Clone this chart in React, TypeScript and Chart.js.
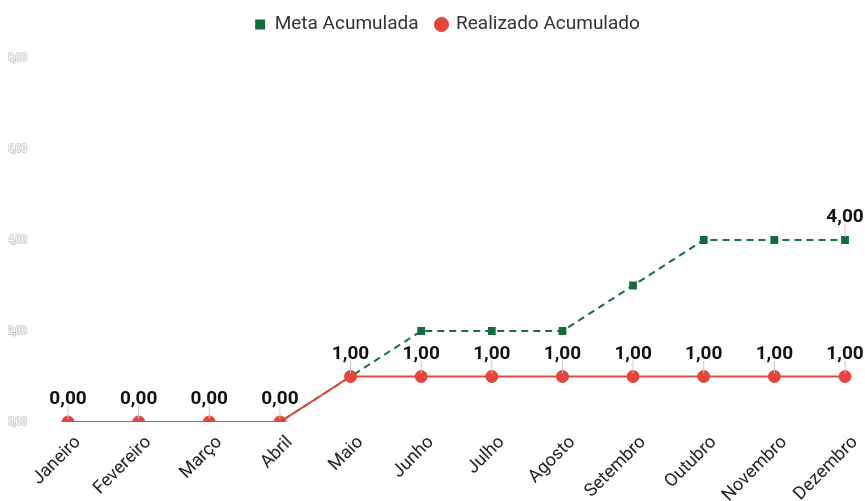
import React, { useEffect, useRef } from "react";
import { Chart, registerables } from "chart.js";

Chart.register(...registerables);

const months = ["Janeiro", "Fevereiro", "Março", "Abril", "Maio", "Junho", "Julho", "Agosto", "Setembro", "Outubro", "Novembro", "Dezembro"];
const metaAcumulada = [0, 0, 0, 0, 1, 2, 2, 2, 3, 4, 4, 4];
const realizadoAcumulado = [0, 0, 0, 0, 1, 1, 1, 1, 1, 1, 1, 1];
const yTicks = [0, 2, 4, 6, 8];

const fmt = (v: number) => v.toFixed(2).replace(".", ",");

const labelPlugin = {
  id: "pointLabels",
  afterDatasetsDraw(chart: any) {
    const ctx = chart.ctx;
    ctx.save();
    chart.data.datasets.forEach((ds: any, di: number) => {
      const meta = chart.getDatasetMeta(di);
      meta.data.forEach((pt: any, i: number) => {
        const isMeta = ds.label === "Meta Acumulada";
        if (isMeta && i !== ds.data.length - 1) return;
        const x = pt.x;
        const y = pt.y;
        ctx.strokeStyle = "#c8c8c8";
        ctx.lineWidth = 1;
        ctx.beginPath();
        ctx.moveTo(x, y - 3);
        ctx.lineTo(x, y - 18);
        ctx.stroke();
        ctx.font = "bold 19px Roboto";
        ctx.textAlign = "center";
        ctx.textBaseline = "alphabetic";
        ctx.lineJoin = "round";
        ctx.strokeStyle = "rgba(255,255,255,0.95)";
        ctx.lineWidth = 4;
        const t = fmt(ds.data[i]);
        ctx.strokeText(t, x, y - 18);
        ctx.fillStyle = "#111111";
        ctx.fillText(t, x, y - 18);
      });
    });
    ctx.restore();
  },
};

const legendHeightPlugin = {
  id: "legendHeight",
  beforeUpdate(chart: any) {
    const lg = chart.legend;
    if (lg && !lg.__patched) {
      const orig = lg.fit;
      lg.fit = function () {
        orig.call(this);
        this.height = 61;
      };
      lg.__patched = true;
    }
  },
  afterLayout(chart: any) {
    if (chart.legend) chart.legend.left += 42;
  },
};

export default function App() {
  const ref = useRef<HTMLCanvasElement>(null);
  useEffect(() => {
    document.body.style.margin = "0";
    const chart = new Chart(ref.current!, {
      type: "line",
      data: {
        labels: months,
        datasets: [
          {
            label: "Meta Acumulada",
            data: metaAcumulada,
            borderColor: "#1a6e3f",
            backgroundColor: "#0f6e3c",
            borderWidth: 2,
            borderDash: [7, 5],
            pointStyle: "rect",
            pointRadius: 5.5,
            pointBorderWidth: 0,
            pointHoverRadius: 5.5,
            tension: 0,
            order: 1,
          },
          {
            label: "Realizado Acumulado",
            data: realizadoAcumulado,
            borderColor: "#dc4a3c",
            backgroundColor: "#e8443a",
            borderWidth: 2,
            pointStyle: "circle",
            pointRadius: 6,
            pointBorderWidth: 1,
            pointHoverRadius: 6,
            tension: 0,
            order: 0,
          },
        ],
      },
      options: {
        animation: false,
        responsive: false,
        layout: { padding: { left: 8, right: 20, top: -3, bottom: 0 } },
        plugins: {
          tooltip: { enabled: false },
          legend: {
            reverse: true,
            labels: {
              usePointStyle: true,
              boxHeight: 10,
              boxWidth: 10,
              font: { family: "Roboto", size: 19 },
              color: "#333333",
              padding: 18,
            },
          },
        },
        scales: {
          x: {
            offset: false,
            grid: { display: false },
            border: { display: false },
            ticks: {
              maxRotation: 45,
              minRotation: 45,
              labelOffset: 10,
              font: { family: "Roboto", size: 18 },
              color: "#222222",
              padding: 2,
            },
            afterFit(scale: any) {
              scale.height = 79;
            },
          },
          y: {
            min: 0,
            max: 8,
            grid: { display: false },
            border: { display: false },
            afterBuildTicks(scale: any) {
              scale.ticks = yTicks.map((v) => ({ value: v }));
            },
            ticks: {
              callback: (v: any) => fmt(Number(v)),
              font: { family: "Roboto", size: 10 },
              color: "#ffffff",
              textStrokeColor: "#cfcfcf",
              textStrokeWidth: 2,
              crossAlign: "far",
            },
            afterFit(scale: any) {
              scale.width = 60;
            },
          },
        },
      },
      plugins: [labelPlugin, legendHeightPlugin],
    });
    return () => chart.destroy();
  }, []);
  return <canvas ref={ref} width={865} height={501} style={{ display: "block" }} />;
}
